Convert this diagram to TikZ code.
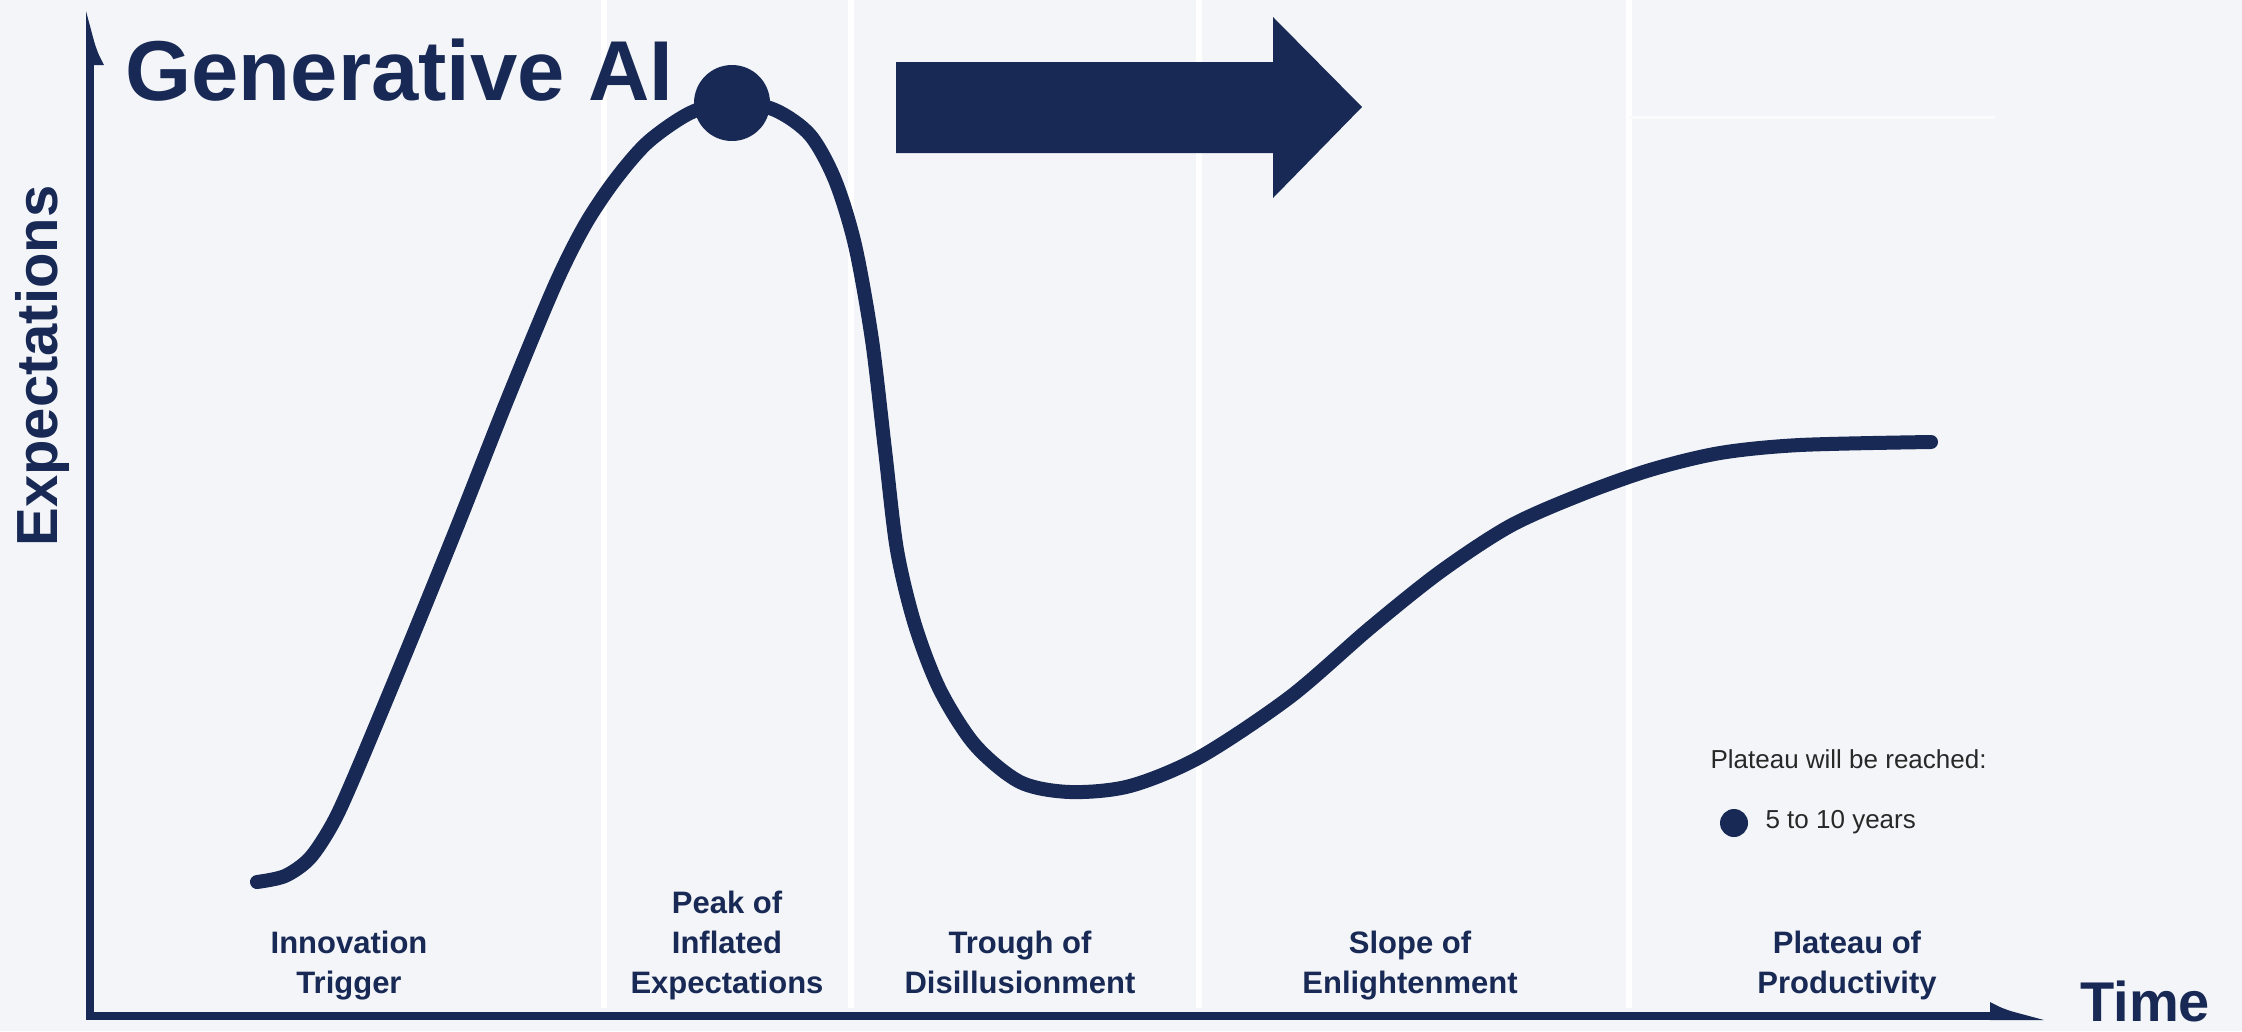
\documentclass[tikz,border=0pt]{standalone}
\usepackage{fontspec}
\setmainfont{Liberation Sans}
\usetikzlibrary{arrows.meta}
\definecolor{navy}{RGB}{23,41,84}
\definecolor{bgc}{RGB}{244,245,248}
\definecolor{legtext}{RGB}{40,40,40}
\tikzset{
	phase/.style={text=navy, font=\fontsize{31}{40}\selectfont\bfseries, align=center, anchor=base},
	legend/.style={text=legtext, font=\fontsize{26}{30}\selectfont, anchor=base west},
	axis/.style={navy, line width=8, line cap=rect},
	ytip/.style={-{Latex[harpoon, swap, length=42pt, width=28pt]}},
	xtip/.style={-{Latex[harpoon, length=42pt, width=28pt]}},
}
\begin{document}
\begin{tikzpicture}[x=1pt, y=-1pt, line join=round, line cap=round]
	\def\xo{90} \def\yo{1016} \def\xe{2050} \def\ye{5}
	\fill[bgc] (0,0) rectangle (2242,1031);
	\useasboundingbox (0,0) rectangle (2242,1031);
	% panel separators
	\foreach \s in {604,851,1199,1629}
		\draw[white, line width=6, line cap=butt] (\s,0)--(\s,1008);
	\draw[white!60!bgc, line width=3, line cap=butt] (1629,117)--(1995,117);
	% axes
	\coordinate (O) at (\xo,\yo);
	\coordinate (ytop) at (\xo,\ye);
	\coordinate (xend) at (\xe,\yo);
	\draw[axis, ytip] (O) -- (ytop);
	\draw[axis, xtip] (O) -- (xend);
	\node[rotate=90, anchor=base, text=navy, font=\fontsize{58}{60}\selectfont\bfseries] (expect) at (57,366) {Expectations};
	\node[anchor=base west, inner sep=0pt, text depth=0pt, text=navy, font=\fontsize{56}{60}\selectfont\bfseries] (time) at (2080,1021) {Time};
	% hype curve
	\draw[navy, line width=14] plot[smooth, tension=0.5] coordinates {
		(257,882) (285,876) (310,858) (333,823) (355,775) (405,655) (457,527)
		(508,398) (555,285) (585,225) (615,180) (648,142) (690,113)
		(732,101) (775,110) (810,135) (835,180) (855,245) (872,340) (885,450)
		(897,550) (915,625) (940,690) (975,745) (1020,782) (1070,792)
		(1130,786) (1200,757) (1290,697) (1370,628) (1440,572) (1510,526)
		(1580,495) (1650,470) (1720,453) (1800,445) (1931,442)};
	\node[circle, fill=navy, minimum size=76pt, inner sep=0pt] (peak) at (732,103) {};
	\node[anchor=base west, text=navy, font=\fontsize{85}{100}\selectfont\bfseries] (title) at (122,100) {Generative AI};
	\fill[navy] (896,62) -- (1273,62) -- (1273,17) -- (1362,107) -- (1273,198)
		-- (1273,153) -- (896,153) -- cycle;
	% phases
	\node[phase] (trigger) at (349,993) {Innovation\\Trigger};
	\node[phase] (inflated) at (727,993) {Peak of\\Inflated\\Expectations};
	\node[phase] (trough) at (1020,993) {Trough of\\Disillusionment};
	\node[phase] (slope) at (1410,993) {Slope of\\Enlightenment};
	\node[phase] (plateau) at (1847,993) {Plateau of\\Productivity};
	% legend
	\node[legend] (legtitle) at (1707,768) {Plateau will be reached:};
	\node[circle, fill=navy, minimum size=28pt, inner sep=0pt] (legdot) at (1734,823) {};
	\node[legend] (legyears) at (1762,828) {5 to 10 years};
\end{tikzpicture}
\end{document}
